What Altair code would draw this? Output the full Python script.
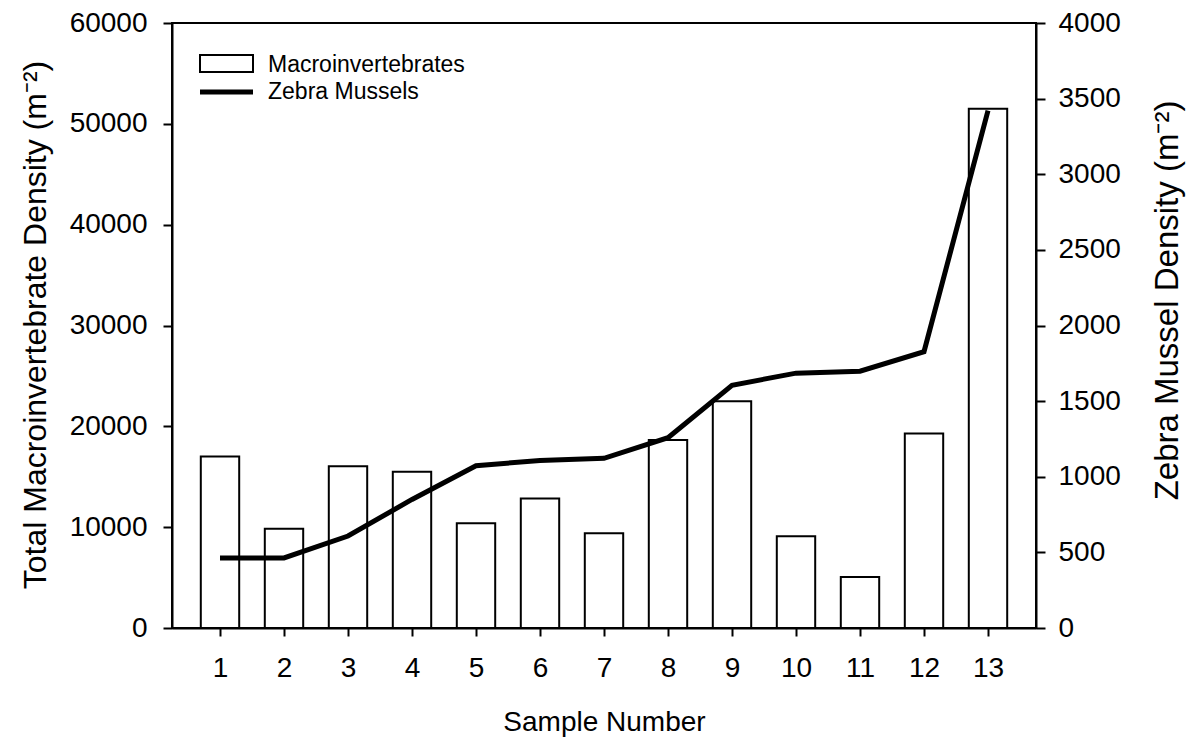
import altair as alt
import pandas as pd

samples = [1, 2, 3, 4, 5, 6, 7, 8, 9, 10, 11, 12, 13]
macro_density = [17000, 9850, 16050, 15500, 10400, 12850, 9400, 18650, 22500, 9100, 5050, 19300, 51500]
zebra_density = [463, 463, 608, 850, 1073, 1108, 1122, 1258, 1605, 1685, 1698, 1827, 3420]
legend_labels = ["Macroinvertebrates", "Zebra Mussels"]
x_ticks = samples
left_ticks = [0, 10000, 20000, 30000, 40000, 50000, 60000]
right_ticks = [0, 500, 1000, 1500, 2000, 2500, 3000, 3500, 4000]

FONT = "Liberation Sans"
W, H = 864, 605
LAB = 28

df = pd.DataFrame({"sample": samples, "macro": macro_density, "zebra": zebra_density})
df["x_lo"] = df["sample"] - 0.3
df["x_hi"] = df["sample"] + 0.3

xscale = alt.Scale(domain=[0.25, 13.75], nice=False, zero=False)
xaxis = alt.Axis(values=x_ticks, format="d", title="Sample Number", grid=False,
                 labelFontSize=LAB, titleFontSize=28, labelPadding=18, titlePadding=26,
                 tickSize=8, labelFont=FONT, titleFont=FONT, titleFontWeight="normal",
                 domainColor="black", tickColor="black", domainWidth=2, tickWidth=2,
                 labelColor="black", titleColor="black")

bars = alt.Chart(df).mark_rect(fill="white", stroke="black", strokeWidth=2).encode(
    x=alt.X("x_lo:Q", scale=xscale, axis=xaxis),
    x2="x_hi:Q",
    y=alt.Y("macro:Q", scale=alt.Scale(domain=[0, 60000], nice=False),
            axis=alt.Axis(values=left_ticks, format="d", grid=False, orient="left",
                          title="Total Macroinvertebrate Density (m⁻²)",
                          labelFontSize=LAB, titleFontSize=32, labelPadding=16,
                          tickSize=9, labelFont=FONT, titleFont=FONT, titleFontWeight="normal",
                          titleAngle=270, titleX=-137, titleY=H / 2 - 1, titleBaseline="middle",
                          titleAlign="center",
                          domainColor="black", tickColor="black", domainWidth=2, tickWidth=2,
                          labelColor="black", titleColor="black")),
    y2=alt.Y2(datum=0),
)

line = alt.Chart(df).mark_line(color="black", strokeWidth=5).encode(
    x=alt.X("sample:Q", scale=xscale, axis=xaxis),
    y=alt.Y("zebra:Q", scale=alt.Scale(domain=[0, 4000], nice=False),
            axis=alt.Axis(values=right_ticks, format="d", grid=False, orient="right",
                          title="Zebra Mussel Density (m⁻²)",
                          labelFontSize=LAB, titleFontSize=33, labelPadding=13,
                          tickSize=9, labelFont=FONT, titleFont=FONT, titleFontWeight="normal",
                          titleAngle=270, titleX=131, titleY=277, titleBaseline="middle",
                          titleAlign="center",
                          domainColor="black", tickColor="black", domainWidth=2, tickWidth=2,
                          labelColor="black", titleColor="black")),
)

leg_df = pd.DataFrame({"label": legend_labels})

leg_box = alt.Chart(leg_df).transform_filter(alt.datum.label == legend_labels[0]).mark_rect(
    fill="white", stroke="black", strokeWidth=2).encode(
    x=alt.value(28), x2=alt.value(81), y=alt.value(32), y2=alt.value(49))

leg_line = alt.Chart(leg_df).transform_filter(alt.datum.label == legend_labels[1]).mark_rule(
    color="black", strokeWidth=5).encode(
    x=alt.value(28), x2=alt.value(81), y=alt.value(69))

leg_text1 = alt.Chart(leg_df).transform_filter(alt.datum.label == legend_labels[0]).mark_text(
    align="left", baseline="middle", fontSize=23, font=FONT, color="black").encode(
    x=alt.value(96), y=alt.value(42), text="label:N")

leg_text2 = alt.Chart(leg_df).transform_filter(alt.datum.label == legend_labels[1]).mark_text(
    align="left", baseline="middle", fontSize=23, font=FONT, color="black").encode(
    x=alt.value(96), y=alt.value(69), text="label:N")

chart = alt.layer(bars, line, leg_box, leg_line, leg_text1, leg_text2).resolve_scale(
    y="independent"
).properties(
    width=W, height=H,
    padding={"left": 172, "top": 23, "right": 155, "bottom": 112},
    autosize=alt.AutoSizeParams(type="none"),
    background="white",
).configure_view(stroke="black", strokeWidth=2)

chart.save("out.html", embed_options={"renderer": "svg", "actions": False})
